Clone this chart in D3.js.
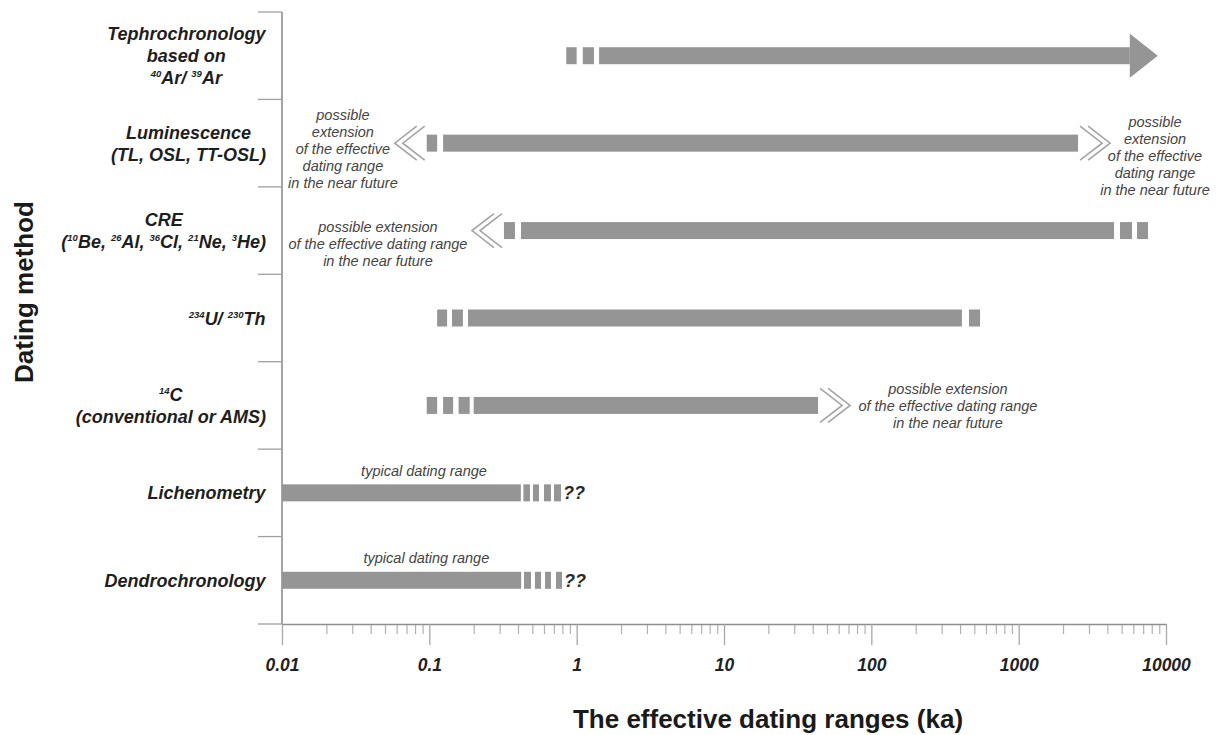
<!DOCTYPE html>
<html><head><meta charset="utf-8">
<script src="https://cdn.jsdelivr.net/npm/d3@7/dist/d3.min.js"></script>
<style>
body{margin:0;background:#fff;}
svg{display:block;}
text{font-family:"Liberation Sans",Arial,Helvetica,sans-serif;}
</style>
</head><body>
<svg id="chart" width="1220" height="735"></svg>
<script>
// ---------------- DATA ----------------
const methods = ["Tephrochronology","Luminescence","CRE","U/Th","14C","Lichenometry","Dendrochronology"];

// label lines, each line a list of [text, superscript?]
const methodLabels = [
  [[["Tephrochronology"]],[["based on"]],[["40",1],["Ar/ "],["39",1],["Ar"]]],
  [[["Luminescence"]],[["(TL, OSL, TT-OSL)"]]],
  [[["CRE"]],[["("],["10",1],["Be, "],["26",1],["Al, "],["36",1],["Cl, "],["21",1],["Ne, "],["3",1],["He)"]]],
  [[["234",1],["U/ "],["230",1],["Th"]]],
  [[["14",1],["C"]],[["(conventional or AMS)"]]],
  [[["Lichenometry"]]],
  [[["Dendrochronology"]]]
];

// effective dating range segments (ka): [from, to]
const tephroSegments = [[0.85,1.0],[1.1,1.31],[1.42,8800]];
const lumSegments    = [[0.096,0.113],[0.124,2530]];
const creSegments    = [[0.321,0.381],[0.419,4440],[4870,5880],[6360,7550]];
const uthSegments    = [[0.113,0.132],[0.1425,0.169],[0.183,412],[460,547]];
const c14Segments    = [[0.096,0.113],[0.124,0.145],[0.158,0.188],[0.2,43.5]];
const lichenSegments = [[0.01,0.418],[0.435,0.482],[0.505,0.555],[0.6,0.669],[0.702,0.783]];
const dendroSegments = [[0.01,0.42],[0.439,0.49],[0.521,0.573],[0.61,0.669],[0.724,0.795]];
const segmentsByMethod = [tephroSegments,lumSegments,creSegments,uthSegments,c14Segments,lichenSegments,dendroSegments];

const arrowMethods = ["Tephrochronology"];
const leftExtensionMethods = ["Luminescence","CRE"];
const rightExtensionMethods = ["Luminescence","14C"];
const uncertainMethods = ["Lichenometry","Dendrochronology"];

const extNote5 = ["possible","extension","of the effective","dating range","in the near future"];
const extNote3 = ["possible extension","of the effective dating range","in the near future"];
const noteMethods = ["Luminescence","Luminescence","CRE","14C","Lichenometry","Dendrochronology"];
const noteAt      = [0.0259, 8420, 0.0448, 331, 0.092, 0.0955];   // ka, centre of the note
const noteLines   = [extNote5, extNote5, extNote3, extNote3, ["typical dating range"], ["typical dating range"]];

const majorTicks = [0.01,0.1,1,10,100,1000,10000];
const tickLabels = ["0.01","0.1","1","10","100","1000","10000"];
const xTitle = "The effective dating ranges (ka)";
const yTitle = "Dating method";

// ---------------- LAYOUT ----------------
const L = {left:282, right:1166, top:12, bottom:624, barH:17,
  noteDy:[6,13,13,1,-22,-22], labelRight:266, gray:"#8f8f8f"};

const svg = d3.select("#chart");
const x = d3.scaleLog().domain([0.01,10000]).range([L.left,L.right]);
const y = d3.scaleBand().domain(methods).range([L.top,L.bottom]).padding(0);
const yc = m => y(m) + y.bandwidth()/2;

// ---------------- AXES ----------------
const minorTicks = [];
majorTicks.slice(0,-1).forEach(d => d3.range(2,10).forEach(k => minorTicks.push(d*k)));

const gMinor = svg.append("g").attr("transform",`translate(0,${L.bottom})`)
  .call(d3.axisBottom(x).tickValues(minorTicks).tickSize(10).tickSizeOuter(0).tickFormat(""));
gMinor.select(".domain").remove();
gMinor.selectAll("line").attr("stroke","#b0b0b0").attr("stroke-width",1.2);

const gX = svg.append("g").attr("transform",`translate(0,${L.bottom})`)
  .call(d3.axisBottom(x).tickValues(majorTicks).tickSize(21).tickSizeOuter(0).tickPadding(14)
    .tickFormat((d,i)=>tickLabels[i]));
gX.select(".domain").attr("stroke",L.gray).attr("stroke-width",1.6);
gX.selectAll("line").attr("stroke","#a8a8a8").attr("stroke-width",1.3);
gX.selectAll("text").attr("font-size",17.5).attr("font-weight","bold").attr("font-style","italic")
  .attr("fill","#222").attr("font-family","Liberation Sans, Arial, sans-serif");

// y axis line and row boundary ticks
svg.append("line").attr("x1",L.left).attr("x2",L.left).attr("y1",L.top).attr("y2",L.bottom)
  .attr("stroke",L.gray).attr("stroke-width",1.6);
const bounds = methods.map(m=>y(m)).concat([y.range()[1]]);
svg.append("g").selectAll("line").data(bounds).join("line")
  .attr("x1",L.left-24).attr("x2",L.left).attr("y1",d=>d).attr("y2",d=>d)
  .attr("stroke","#a0a0a0").attr("stroke-width",1.3);

// ---------------- BARS ----------------
const barFill = "#959595";
const gBars = svg.append("g");
methods.forEach((m,i)=>{
  const segs = segmentsByMethod[i];
  const cy = yc(m);
  const isArrow = arrowMethods.includes(m);
  segs.forEach((s,j)=>{
    let x0 = x(s[0]), x1 = x(s[1]);
    if (isArrow && j===segs.length-1) x1 -= 28;
    gBars.append("rect").attr("x",x0).attr("y",cy-L.barH/2)
      .attr("width",x1-x0).attr("height",L.barH).attr("fill",barFill);
  });
  if (isArrow){
    const xe = x(segs[segs.length-1][1]);
    gBars.append("path").attr("d",`M${xe-28},${cy-22}L${xe},${cy}L${xe-28},${cy+22}Z`).attr("fill",barFill);
  }
  if (leftExtensionMethods.includes(m)){
    const xs = x(segs[0][0]);
    [2,10].forEach(o=>{
      const xb = xs - o;
      gBars.append("path").attr("d",`M${xb},${cy-17}L${xb-22},${cy}L${xb},${cy+17}`)
        .attr("fill","none").attr("stroke","#a4a4a4").attr("stroke-width",1.6);
    });
  }
  if (rightExtensionMethods.includes(m)){
    const xe = x(segs[segs.length-1][1]);
    [2,10].forEach(o=>{
      const xb = xe + o;
      gBars.append("path").attr("d",`M${xb},${cy-17}L${xb+22},${cy}L${xb},${cy+17}`)
        .attr("fill","none").attr("stroke","#a4a4a4").attr("stroke-width",1.6);
    });
  }
  if (uncertainMethods.includes(m)){
    const xe = x(segs[segs.length-1][1]);
    gBars.append("text").attr("x",xe+2).attr("y",cy+6.5).text("??")
      .attr("font-size",18).attr("font-weight","bold").attr("font-style","italic").attr("fill","#2a2a2a");
  }
});

// ---------------- NOTES ----------------
noteMethods.forEach((m,i)=>{
  const lines = noteLines[i];
  const cx = x(noteAt[i]);
  const cmid = yc(m) + L.noteDy[i];
  const n = lines.length;
  lines.forEach((t,j)=>{
    svg.append("text").attr("x",cx).attr("y",cmid + (j-(n-1)/2)*17 + 5)
      .attr("text-anchor","middle").attr("font-size",14.5).attr("font-style","italic")
      .attr("fill","#444").text(t);
  });
});

// ---------------- METHOD LABELS ----------------
methods.forEach((m,i)=>{
  const lines = methodLabels[i];
  const n = lines.length;
  const cy = yc(m);
  const texts = lines.map((pieces,j)=>{
    const t = svg.append("text").attr("y",cy + (j-(n-1)/2)*22 + 6.5)
      .attr("text-anchor","middle").attr("font-size",18).attr("font-weight","bold")
      .attr("font-style","italic").attr("fill","#1e1e1e");
    let sup = false;
    pieces.forEach(p=>{
      const isSup = !!p[1];
      const ts = t.append("tspan").text(p[0]);
      if (isSup){ ts.attr("font-size",9.5).attr("dy", sup?0:-7); }
      else { ts.attr("dy", sup?7:0); }
      sup = isSup;
    });
    return t;
  });
  const maxW = d3.max(texts, t=>t.node().getBBox().width);
  texts.forEach(t=>t.attr("x", L.labelRight - maxW/2));
});

// ---------------- TITLES ----------------
svg.append("text").attr("x",768).attr("y",728).attr("text-anchor","middle")
  .attr("font-size",26).attr("font-weight","bold").attr("fill","#1a1a1a").text(xTitle);
svg.append("text").attr("transform","translate(33,292) rotate(-90)").attr("text-anchor","middle")
  .attr("font-size",26).attr("font-weight","bold").attr("fill","#1a1a1a").text(yTitle);
</script>
</body></html>
